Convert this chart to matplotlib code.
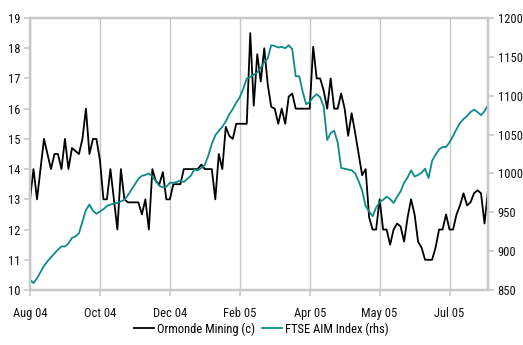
import matplotlib
matplotlib.use("Agg")
import matplotlib.pyplot as plt
import numpy as np
import logging
logging.getLogger('matplotlib.font_manager').setLevel(logging.ERROR)

# Ormonde Mining share price (c), one value per trading-day sample
ormonde = [13.0, 14.0, 13.0, 14.0, 15.0, 14.5, 14.0, 14.5, 14.5, 14.0,
           15.0, 14.0, 14.7, 14.6, 14.5, 15.0, 16.0, 14.5, 15.0, 15.0,
           14.3, 13.0, 13.0, 14.0, 13.0, 12.0, 14.0, 13.0, 12.9, 12.9,
           12.9, 12.9, 12.5, 13.0, 12.0, 14.0, 13.6, 13.5, 13.9, 13.0,
           13.0, 13.5, 13.5, 13.5, 14.0, 14.0, 14.0, 14.0, 14.0, 14.15,
           14.0, 14.0, 14.0, 13.0, 14.5, 14.0, 15.4, 15.1, 15.0, 15.5,
           15.5, 15.5, 15.5, 18.5, 16.1, 17.8, 16.9, 18.0, 16.8, 16.06,
           16.0, 15.5, 16.0, 15.5, 16.4, 16.5, 16.0, 16.0, 16.0, 16.0,
           16.0, 18.05, 17.0, 17.0, 16.6, 16.0, 17.0, 16.0, 16.0, 16.5,
           16.0, 15.1, 15.85, 15.2, 14.5, 13.8, 14.0, 12.4, 12.0, 12.0,
           13.0, 12.0, 12.0, 11.5, 12.0, 12.2, 12.1, 11.6, 12.4, 13.0,
           12.5, 11.6, 11.4, 11.0, 11.0, 11.0, 11.4, 12.0, 12.0, 12.5,
           12.0, 12.0, 12.5, 12.8, 13.2, 12.8, 12.9, 13.2, 13.3, 13.2,
           12.2, 13.3]

# FTSE AIM Index (rhs)
aim = [863, 859, 865, 873, 881, 887, 892, 897, 902, 906,
       906, 910, 917, 919, 923, 938, 953, 960, 952, 948,
       951, 954, 958, 960, 961, 962, 964, 966, 972, 979,
       986, 993, 997, 998, 1000, 996, 990, 984, 982, 983,
       988, 988, 989, 991, 989, 993, 997, 1005, 1004, 1007,
       1011, 1023, 1038, 1049, 1055, 1060, 1067, 1076, 1083, 1091,
       1098, 1109, 1122, 1124, 1127, 1130, 1136, 1143, 1148, 1165,
       1164, 1162, 1163, 1161, 1165, 1160, 1125, 1125, 1105, 1089,
       1092, 1098, 1102, 1098, 1086, 1043, 1052, 1055, 1040, 1007,
       1006, 1005, 1004, 1000, 990, 978, 958, 951, 945, 956,
       963, 966, 970, 967, 962, 970, 977, 988, 995, 1004,
       996, 998, 1001, 1006, 994, 1016, 1024, 1031, 1034, 1034,
       1040, 1048, 1057, 1065, 1070, 1074, 1079, 1082, 1079, 1075,
       1080, 1088]

tick_labels = ["Aug 04", "Oct 04", "Dec 04", "Feb 05", "Apr 05", "May 05", "Jul 05"]
tick_step = 20

plt.rcParams['font.family'] = ['Liberation Sans Narrow', 'Roboto Condensed',
                               'PT Sans Narrow', 'Archivo Narrow', 'Liberation Sans']

fig = plt.figure(figsize=(5.23, 3.45), dpi=100)
ax = fig.add_axes([30/523, 1 - 290/345, 458/523, 272/345])
ax2 = ax.twinx()

x = np.arange(len(ormonde))
grid_col = '#C8C8C8'

# vertical gridlines at the date ticks
ax.set_xticks(np.arange(len(tick_labels)) * tick_step)
ax.set_xticklabels(tick_labels)
ax.grid(axis='x', color=grid_col, linewidth=1.0)
ax.set_axisbelow(True)

ax.plot(x, ormonde, color='black', linewidth=1.3, label='Ormonde Mining (c)')
ax2.plot(x, aim, color='#0E8A8A', linewidth=1.3, label='FTSE AIM Index (rhs)')

ax.set_xlim(0, len(ormonde) - 1)
ax.set_ylim(10, 19)
ax.set_yticks(range(10, 20))
ax2.set_ylim(850, 1200)
ax2.set_yticks(range(850, 1201, 50))

for a in (ax, ax2):
    for s in a.spines.values():
        s.set_color(grid_col)
        s.set_linewidth(1.6)
    a.tick_params(colors=grid_col, labelcolor='#111111', labelsize=9,
                  length=4, width=1.2, pad=3)
ax.tick_params(axis='x', pad=8)

h1, l1 = ax.get_legend_handles_labels()
h2, l2 = ax2.get_legend_handles_labels()
fig.legend(h1 + h2, l1 + l2, loc='center', bbox_to_anchor=(0.5, 1 - 329/345),
           ncol=2, frameon=False, fontsize=9, handlelength=1.6,
           handletextpad=0.2, columnspacing=0.6)

fig.savefig('out.png', dpi=100)
